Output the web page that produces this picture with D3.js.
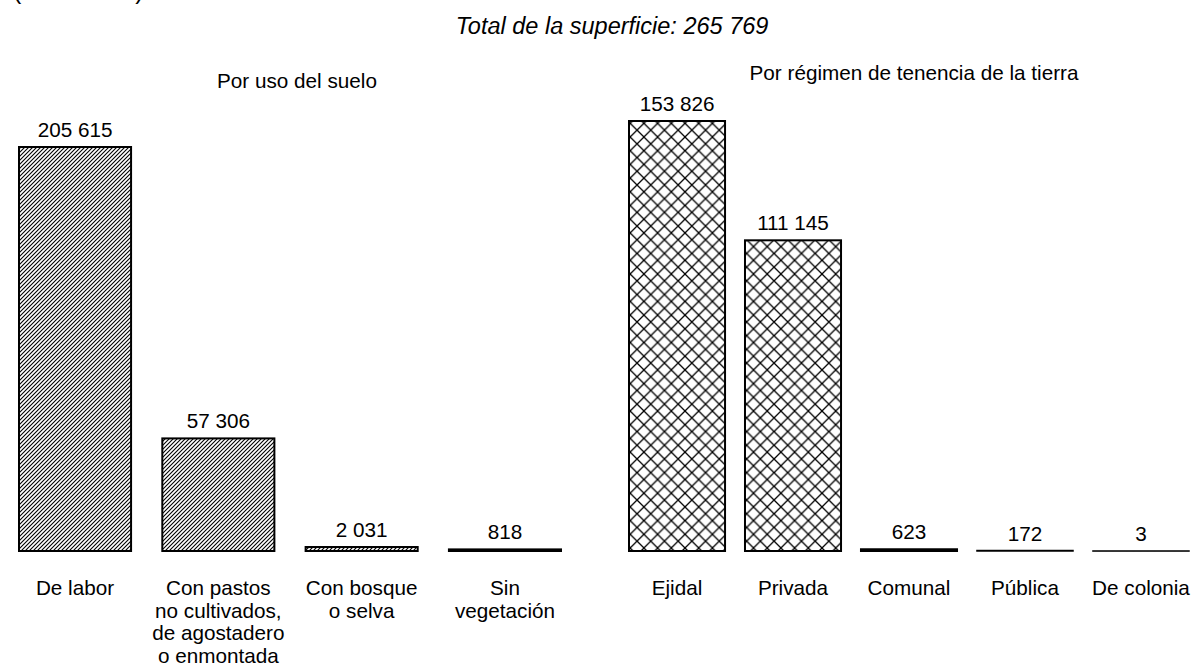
<!DOCTYPE html>
<html>
<head>
<meta charset="utf-8">
<script src="https://cdn.jsdelivr.net/npm/d3@7"></script>
<style>
  body { margin: 0; background: #fff; }
  text { font-family: "Liberation Sans", Arial, sans-serif; fill: #000; }
</style>
</head>
<body>
<svg width="1196" height="670"></svg>
<script>
// data
var usoCats = [["De labor"], ["Con pastos", "no cultivados,", "de agostadero", "o enmontada"], ["Con bosque", "o selva"], ["Sin", "vegetación"]];
var usoVals = [205615, 57306, 2031, 818];
var usoLbls = ["205 615", "57 306", "2 031", "818"];

var tenCats = [["Ejidal"], ["Privada"], ["Comunal"], ["Pública"], ["De colonia"]];
var tenVals = [153826, 111145, 623, 172, 3];
var tenLbls = ["153 826", "111 145", "623", "172", "3"];

var svg = d3.select('svg');
var base = 551;
var fs = '20.7px';

// patterns
var defs = svg.append('defs');
var diag = defs.append('pattern')
    .attr('id', 'diag')
    .attr('patternUnits', 'userSpaceOnUse')
    .attr('width', 4)
    .attr('height', 4);
diag.append('rect').attr('width', 4).attr('height', 4).style('fill', '#fff');
diag.append('path')
    .attr('d', 'M-1,1 L1,-1 M0,4 L4,0 M3,5 L5,3')
    .style('stroke', '#000')
    .style('stroke-width', 1.1);

var cross = defs.append('pattern')
    .attr('id', 'cross')
    .attr('patternUnits', 'userSpaceOnUse')
    .attr('width', 13.7)
    .attr('height', 13.7);
cross.append('rect').attr('width', 13.7).attr('height', 13.7).style('fill', '#fff');
cross.append('path')
    .attr('d', 'M0,0 L13.7,13.7 M13.7,0 L0,13.7')
    .style('stroke', '#000')
    .style('stroke-width', 1.3);

// titles
svg.append('text')
    .text('(Hectáreas)')
    .attr('x', 13)
    .attr('y', -1)
    .style('font-size', '25px');

svg.append('text')
    .text('Total de la superficie: 265 769')
    .attr('x', 612)
    .attr('y', 34)
    .attr('text-anchor', 'middle')
    .style('font-size', '23.5px')
    .style('font-style', 'italic');

function panel(cats, vals, lbls, xr, pad, top, fill, title, titleX, titleY) {
    var x = d3.scaleBand()
        .domain(d3.range(vals.length))
        .range(xr)
        .paddingInner(pad)
        .paddingOuter(0);
    var y = d3.scaleLinear()
        .domain([0, d3.max(vals)])
        .range([base, top]);

    svg.append('text')
        .text(title)
        .attr('x', titleX)
        .attr('y', titleY)
        .attr('text-anchor', 'middle')
        .style('font-size', fs);

    var g = svg.append('g');
    g.selectAll('rect')
        .data(vals)
        .enter()
        .append('rect')
        .attr('x', function (d, i) { return x(i); })
        .attr('y', function (d) { return y(d); })
        .attr('width', x.bandwidth())
        .attr('height', function (d) { return Math.max(base - y(d), 0.05); })
        .style('fill', fill)
        .style('stroke', '#000')
        .style('stroke-width', function (d) { return (base - y(d)) < 1 ? 1.5 : 2; });

    g.selectAll('text.val')
        .data(vals)
        .enter()
        .append('text')
        .attr('class', 'val')
        .text(function (d, i) { return lbls[i]; })
        .attr('x', function (d, i) { return x(i) + x.bandwidth() / 2; })
        .attr('y', function (d) { return y(d) - 10; })
        .attr('text-anchor', 'middle')
        .style('font-size', fs);

    var c = g.selectAll('text.cat')
        .data(cats)
        .enter()
        .append('text')
        .attr('class', 'cat')
        .attr('x', function (d, i) { return x(i) + x.bandwidth() / 2; })
        .attr('y', 595)
        .attr('text-anchor', 'middle')
        .style('font-size', fs);
    c.selectAll('tspan')
        .data(function (d, i) { return d.map(function (s) { return { s: s, i: i }; }); })
        .enter()
        .append('tspan')
        .attr('x', function (d) { return x(d.i) + x.bandwidth() / 2; })
        .attr('dy', function (d, j) { return j === 0 ? 0 : 22.5; })
        .text(function (d) { return d.s; });
}

panel(usoCats, usoVals, usoLbls, [19, 561], 0.218, 147, 'url(#diag)', 'Por uso del suelo', 297, 88);
panel(tenCats, tenVals, tenLbls, [629, 1189], 0.172, 121, 'url(#cross)', 'Por régimen de tenencia de la tierra', 914, 80);
</script>
</body>
</html>
